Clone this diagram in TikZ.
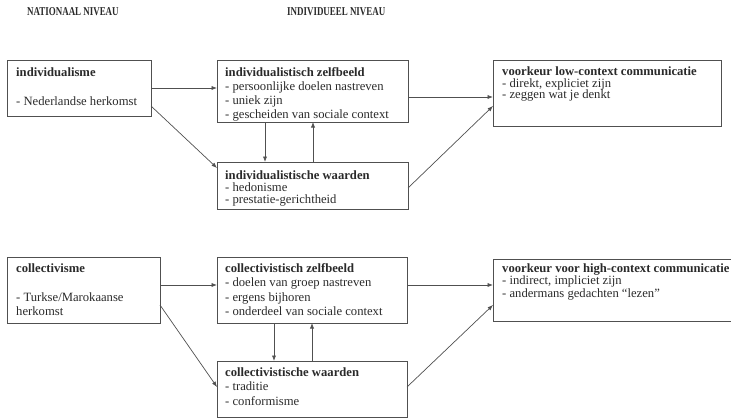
\documentclass[tikz,border=0pt]{standalone}
\usepackage{graphicx}
\usepackage{fontspec}
\setmainfont{Liberation Serif}
\usetikzlibrary{calc,arrows.meta}
\definecolor{ink}{HTML}{2A2A2A}
\definecolor{edge}{HTML}{505050}
\tikzset{
  box/.style={draw=edge, line width=0.8pt, inner sep=0pt, outer sep=0pt, anchor=north west},
  txt/.style={anchor=north west, inner sep=0pt, align=left, text=ink, font=\fontsize{12.65}{#1}\selectfont},
  txt/.default=14,
  arr/.style={draw=edge, line width=0.7pt, -{Latex[length=5.5pt,width=4.2pt]}},
  head/.style={anchor=base west, inner sep=0pt, text=ink, font=\bfseries\fontsize{12}{14}\selectfont},
}
\begin{document}
\begin{tikzpicture}[x=1pt,y=-1pt]
\useasboundingbox (0,0) rectangle (731,418);
\clip (0,0) rectangle (731,418);
% headings
\node[head] (h1) at (27,15.7) {\scalebox{0.745}[1]{NATIONAAL NIVEAU}};
\node[head] (h2) at (287,15.7) {\scalebox{0.745}[1]{INDIVIDUEEL NIVEAU}};
% boxes
\node[box, minimum width=144pt, minimum height=56pt] (b1) at (7,60) {};
\node[box, minimum width=191pt, minimum height=62pt] (b2) at (217,60) {};
\node[box, minimum width=191pt, minimum height=47pt] (b3) at (217,162) {};
\node[box, minimum width=228pt, minimum height=66pt] (b4) at (493,60) {};
\node[box, minimum width=153pt, minimum height=66pt] (b5) at (7,257) {};
\node[box, minimum width=190pt, minimum height=66pt] (b6) at (217,257) {};
\node[box, minimum width=190pt, minimum height=56pt] (b7) at (217,361) {};
\node[box, minimum width=250pt, minimum height=62pt] (b8) at (493,259) {};
% texts
\node[txt=14.5] (t1) at (16,67.3) {\textbf{individualisme}\\[14.5pt]- Nederlandse herkomst};
\node[txt=14] (t2) at (225,67.3) {\textbf{individualistisch zelfbeeld}\\- persoonlijke doelen nastreven\\- uniek zijn\\- gescheiden van sociale context};
\node[txt=12] (t3) at (225,170.3) {\textbf{individualistische waarden}\\- hedonisme\\- prestatie-gerichtheid};
\node[txt=11.6] (t4) at (502,66.5) {\textbf{voorkeur low-context communicatie}\\- direkt, expliciet zijn\\- zeggen wat je denkt};
\node[txt=14] (t5) at (16,263.3) {\textbf{collectivisme}\\[15pt]- Turkse/Marokaanse\\herkomst};
\node[txt=14.3] (t6) at (225,263.3) {\textbf{collectivistisch zelfbeeld}\\- doelen van groep nastreven\\- ergens bijhoren\\- onderdeel van sociale context};
\node[txt=14.5] (t7) at (225,367.3) {\textbf{collectivistische waarden}\\- traditie\\- conformisme};
\node[txt=12.5] (t8) at (502,263.3) {\textbf{voorkeur voor high-context communicatie}\\- indirect, impliciet zijn\\- andermans gedachten “lezen”};
% arrows top
\draw[arr] (b1.east) -- (b1.east -| b2.west);
\draw[arr] ($(b1.north east)+(0,46)$) -- ($(b3.north west)+(0,6)$);
\draw[arr] ($(b2.south west)+(48,0)$) -- ($(b3.north west)+(48,0)$);
\draw[arr] ($(b3.north west)+(96,0)$) -- ($(b2.south west)+(96,0)$);
\draw[arr] ($(b2.north east)+(0,37)$) -- ($(b4.north west)+(0,37)$);
\draw[arr] ($(b3.north east)+(0,26)$) -- ($(b4.north west)+(0,46)$);
% arrows bottom
\draw[arr] ($(b5.north east)+(0,28)$) -- ($(b6.north west)+(0,28)$);
\draw[arr] ($(b5.north east)+(0,48)$) -- ($(b7.north west)+(0,26)$);
\draw[arr] ($(b6.south west)+(57,0)$) -- ($(b7.north west)+(57,0)$);
\draw[arr] ($(b7.north west)+(95,0)$) -- ($(b6.south west)+(95,0)$);
\draw[arr] ($(b6.north east)+(0,28)$) -- ($(b8.north west)+(0,26)$);
\draw[arr] ($(b7.north east)+(0,26)$) -- ($(b8.north west)+(0,46)$);
\end{tikzpicture}
\end{document}
